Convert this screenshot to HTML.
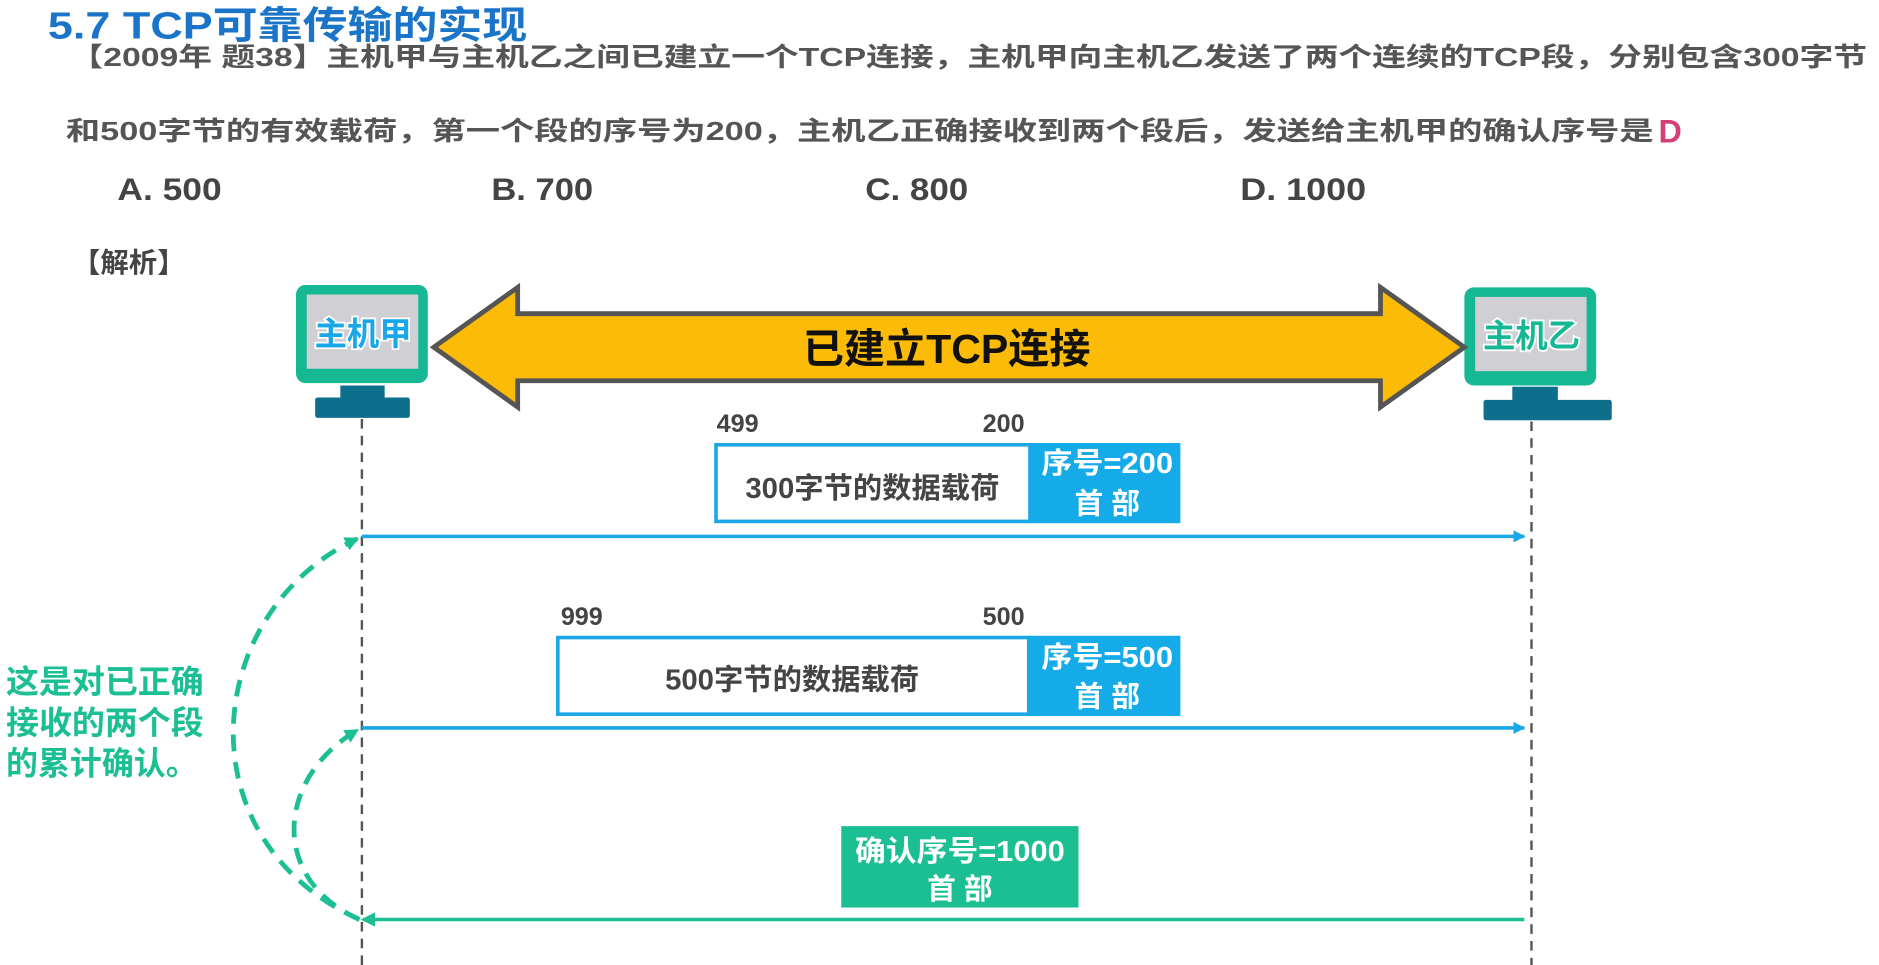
<!DOCTYPE html>
<html><head><meta charset="utf-8"><style>
html,body{margin:0;padding:0;background:#fff;}
svg{display:block;}
text{font-family:"Liberation Sans","Noto Sans CJK SC",sans-serif;font-weight:bold;}
</style></head><body>
<svg width="1879" height="965" viewBox="0 0 1568 806" preserveAspectRatio="none" xmlns="http://www.w3.org/2000/svg">
<defs>
<marker id="ab" markerWidth="10" markerHeight="10" refX="9" refY="5" orient="auto" markerUnits="userSpaceOnUse"><path d="M0,0 L10,5 L0,10 z" fill="#1aa7e8"/></marker>
<marker id="ag" markerWidth="12" markerHeight="12" refX="10" refY="6" orient="auto" markerUnits="userSpaceOnUse"><path d="M0,0 L12,6 L0,12 z" fill="#1cbf94"/></marker>
</defs>
<text x="40" y="32" font-size="32" fill="#1a75c9" textLength="400" lengthAdjust="spacingAndGlyphs">5.7 TCP可靠传输的实现</text>
<text x="58" y="55" font-size="22" fill="#555" textLength="1500" lengthAdjust="spacingAndGlyphs">【2009年 题38】主机甲与主机乙之间已建立一个TCP连接，主机甲向主机乙发送了两个连续的TCP段，分别包含300字节</text>
<text x="55" y="117" font-size="22" fill="#555" textLength="1325" lengthAdjust="spacingAndGlyphs">和500字节的有效载荷，第一个段的序号为200，主机乙正确接收到两个段后，发送给主机甲的确认序号是</text>
<text x="1384" y="119" font-size="27" fill="#d6407a" stroke="#fff" stroke-width="2" paint-order="stroke">D</text>
<text x="98" y="167" font-size="26" fill="#444" textLength="87" lengthAdjust="spacingAndGlyphs">A. 500</text>
<text x="410" y="167" font-size="26" fill="#444" textLength="85" lengthAdjust="spacingAndGlyphs">B. 700</text>
<text x="722" y="167" font-size="26" fill="#444" textLength="86" lengthAdjust="spacingAndGlyphs">C. 800</text>
<text x="1035" y="167" font-size="26" fill="#444" textLength="105" lengthAdjust="spacingAndGlyphs">D. 1000</text>
<text x="60" y="227" font-size="23" fill="#444" textLength="95" lengthAdjust="spacingAndGlyphs">【解析】</text>

<!-- lifelines -->
<line x1="302" y1="350" x2="302" y2="806" stroke="#555" stroke-width="2" stroke-dasharray="8,6"/>
<line x1="1278" y1="352" x2="1278" y2="806" stroke="#555" stroke-width="2" stroke-dasharray="8,6"/>

<!-- left monitor -->
<rect x="247" y="238" width="110" height="82" rx="8" fill="#16b894"/>
<rect x="256" y="246" width="93" height="62" fill="#d0d0d4"/>
<rect x="284" y="322" width="37" height="12" fill="#0d6f8c"/>
<rect x="263" y="332" width="79" height="17" rx="2" fill="#0d6f8c"/>
<text x="303" y="288" font-size="27" text-anchor="middle" fill="#1aa7e8" stroke="#fff" stroke-width="3" paint-order="stroke">主机甲</text>
<!-- right monitor -->
<rect x="1222" y="240" width="110" height="82" rx="8" fill="#16b894"/>
<rect x="1231" y="248" width="93" height="62" fill="#d0d0d4"/>
<rect x="1262" y="323" width="38" height="12" fill="#0d6f8c"/>
<rect x="1238" y="334" width="107" height="17" rx="2" fill="#0d6f8c"/>
<text x="1278" y="290" font-size="27" text-anchor="middle" fill="#16b894" stroke="#fff" stroke-width="3" paint-order="stroke">主机乙</text>

<!-- big arrow -->
<polygon points="362,290 432,240 432,262 1152,262 1152,240 1222,290 1152,340 1152,318 432,318 432,340" fill="#fbbb06" stroke="#555" stroke-width="4" stroke-linejoin="miter"/>
<text x="790" y="303" font-size="34" text-anchor="middle" fill="#111" textLength="240" lengthAdjust="spacingAndGlyphs">已建立TCP连接</text>

<!-- segment 1 -->
<text x="598" y="361" font-size="21" fill="#444">499</text>
<text x="820" y="361" font-size="21" fill="#444">200</text>
<rect x="597.5" y="371.5" width="262" height="64" fill="#fff" stroke="#1aa7e8" stroke-width="3"/>
<rect x="860" y="370" width="125" height="67" fill="#14abe8"/>
<text x="728" y="416" font-size="24" text-anchor="middle" fill="#444" textLength="212" lengthAdjust="spacingAndGlyphs">300字节的数据载荷</text>
<text x="924" y="395" font-size="24" text-anchor="middle" fill="#fff" textLength="110" lengthAdjust="spacingAndGlyphs">序号=200</text>
<text x="924" y="429" font-size="24" text-anchor="middle" fill="#fff">首 部</text>
<line x1="302" y1="448" x2="1272" y2="448" stroke="#1aa7e8" stroke-width="3" marker-end="url(#ab)"/>

<!-- segment 2 -->
<text x="468" y="522" font-size="21" fill="#444">999</text>
<text x="820" y="522" font-size="21" fill="#444">500</text>
<rect x="465.5" y="532.5" width="393" height="64" fill="#fff" stroke="#1aa7e8" stroke-width="3"/>
<rect x="858" y="531" width="127" height="67" fill="#14abe8"/>
<text x="661" y="576" font-size="24" text-anchor="middle" fill="#444" textLength="212" lengthAdjust="spacingAndGlyphs">500字节的数据载荷</text>
<text x="924" y="557" font-size="24" text-anchor="middle" fill="#fff" textLength="110" lengthAdjust="spacingAndGlyphs">序号=500</text>
<text x="924" y="590" font-size="24" text-anchor="middle" fill="#fff">首 部</text>
<line x1="302" y1="608" x2="1272" y2="608" stroke="#1aa7e8" stroke-width="3" marker-end="url(#ab)"/>

<!-- ack -->
<rect x="702" y="690" width="198" height="68" fill="#1cbf94"/>
<text x="801" y="719" font-size="24" text-anchor="middle" fill="#fff" textLength="175" lengthAdjust="spacingAndGlyphs">确认序号=1000</text>
<text x="801" y="751" font-size="24" text-anchor="middle" fill="#fff">首 部</text>
<line x1="1272" y1="768" x2="303" y2="768" stroke="#1cbf94" stroke-width="3" marker-end="url(#ag)"/>

<!-- curves -->
<path d="M300,768 C150,700 170,510 298,450" fill="none" stroke="#1cbf94" stroke-width="4" stroke-dasharray="14,9" marker-end="url(#ag)"/>
<path d="M300,768 C225,735 230,650 298,610" fill="none" stroke="#1cbf94" stroke-width="4" stroke-dasharray="14,9" marker-end="url(#ag)"/>

<g font-size="27" fill="#1cbf94" stroke="#fff" stroke-width="3" paint-order="stroke">
<text x="5" y="579" textLength="165" lengthAdjust="spacingAndGlyphs">这是对已正确</text>
<text x="5" y="613" textLength="165" lengthAdjust="spacingAndGlyphs">接收的两个段</text>
<text x="5" y="647" textLength="160" lengthAdjust="spacingAndGlyphs">的累计确认。</text>
</g>
</svg>
</body></html>
